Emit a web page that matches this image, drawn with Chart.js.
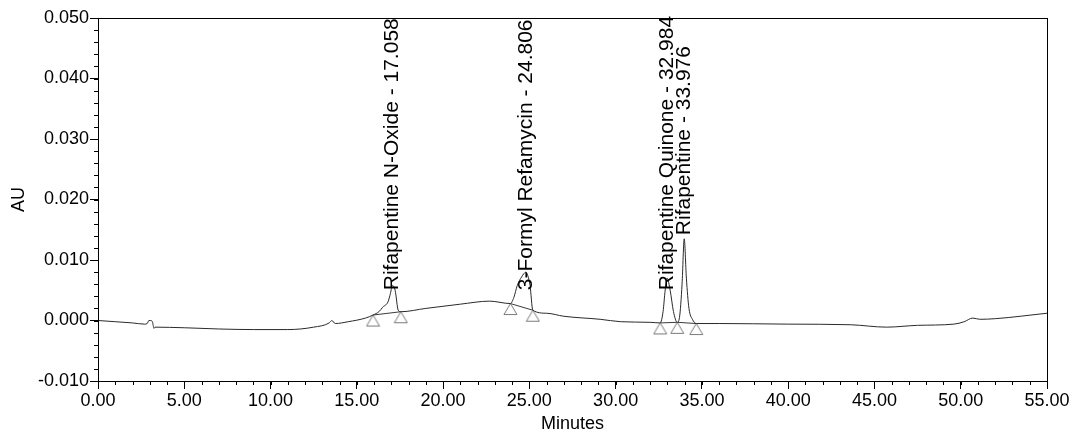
<!DOCTYPE html>
<html>
<head>
<meta charset="utf-8">
<script src="https://cdn.jsdelivr.net/npm/chart.js@4"></script>
<style>
  html, body { margin: 0; padding: 0; background: #fff; }
  #wrap { width: 1072px; height: 434px; }
</style>
</head>
<body>
<div id="wrap"><canvas id="chromChart" width="1072" height="434"></canvas></div>
<script>
// Chromatogram trace (minutes, AU)
const times = [
  0.00, 1.00, 2.00, 2.70, 2.85, 2.95, 3.05, 3.15, 3.25, 3.30, 5.00, 7.00, 9.00, 11.00,
  12.50, 13.40, 13.55, 13.75, 14.50, 15.50, 15.94, 16.30, 16.50, 16.81, 16.95, 17.06,
  17.22, 17.40, 17.55, 19.00, 21.00, 22.70, 23.90, 24.10, 24.30, 24.55, 24.806, 24.95,
  25.04, 25.20, 26.00, 27.00, 29.10, 30.30, 32.00, 32.58, 32.75, 32.87, 32.984, 33.16,
  33.35, 33.57, 33.70, 33.85, 33.976, 34.10, 34.25, 34.45, 34.67, 36.00, 40.00, 43.60,
  45.70, 47.50, 49.60, 50.20, 50.70, 51.10, 52.00, 55.00
];
const absorbance = [
  0.0000, -0.0002, -0.0004, -0.0006, -0.0005, 0.0000, 0.0000, -0.0002, -0.0013, -0.0011,
  -0.0012, -0.0014, -0.0015, -0.0015, -0.0011, -0.0004, 0.0000, -0.0005, -0.0002, 0.0004,
  0.0009, 0.0015, 0.0022, 0.0031, 0.0045, 0.0058, 0.0050, 0.0017, 0.00145, 0.0020, 0.0027,
  0.0032, 0.0028, 0.0038, 0.0058, 0.0072, 0.0080, 0.0070, 0.0058, 0.0017, 0.0012, 0.0007,
  0.0002, -0.0002, -0.0003, -0.0004, 0.0015, 0.0050, 0.0070, 0.0050, 0.0015, -0.0003,
  0.0005, 0.0060, 0.0135, 0.0070, 0.0020, 0.0002, -0.0005, -0.0005, -0.0006, -0.0007,
  -0.0011, -0.0008, -0.0006, -0.0002, 0.0004, 0.0002, 0.0003, 0.0012
];

// Integration marks (null = break between peaks)
const markTimes  = [15.94, 17.55, 20.0, 23.90, 25.20, 29.0, 32.58, 33.57, 34.67];
const markValues = [0.0009, 0.00145, null, 0.0028, 0.0017, null, -0.0004, -0.0003, -0.0005];

// Peak labels
const peakNames = ['Rifapentine N-Oxide', '3-Formyl Refamycin', 'Rifapentine Quinone', 'Rifapentine'];
const peakTimes = [17.058, 24.806, 32.984, 33.976];
const labelBase = [0.0050, 0.0050, 0.0050, 0.0141];

// Axes
const xMin = 0, xMax = 55, xMajor = 5, xMinor = 1;
const yMin = -0.010, yMax = 0.050, yMajor = 0.010, yMinor = 0.002;

const FONT = "'Liberation Sans', Arial, sans-serif";
Chart.defaults.font.family = FONT;
Chart.defaults.color = '#000';

// triangle marker, apex at centre of image
function triangleImage() {
  const c = document.createElement('canvas');
  c.width = 15; c.height = 25;
  const g = c.getContext('2d');
  g.strokeStyle = '#7a7a7a';
  g.lineWidth = 1;
  g.beginPath();
  g.moveTo(7.5, 12.5);
  g.lineTo(14, 23.5);
  g.lineTo(1, 23.5);
  g.closePath();
  g.stroke();
  return c;
}

const framePlugin = {
  id: 'frame',
  afterDraw(chart) {
    const { ctx, chartArea: a, scales } = chart;
    const x = scales.x, y = scales.y;
    ctx.save();
    ctx.strokeStyle = '#000';
    ctx.lineWidth = 1;
    ctx.strokeRect(Math.round(a.left) + 0.5, Math.round(a.top) + 0.5,
      Math.round(a.right - a.left), Math.round(a.bottom - a.top));
    // minor ticks
    ctx.beginPath();
    for (let v = xMin; v <= xMax + 1e-9; v += xMinor) {
      const px = Math.round(x.getPixelForValue(v)) + 0.5;
      ctx.moveTo(px, a.bottom);
      ctx.lineTo(px, a.bottom + 4);
    }
    for (let i = 0; i <= Math.round((yMax - yMin) / yMinor); i++) {
      const py = Math.round(y.getPixelForValue(yMin + i * yMinor)) + 0.5;
      ctx.moveTo(a.left - 4, py);
      ctx.lineTo(a.left, py);
    }
    ctx.stroke();
    ctx.restore();
  }
};

const peakLabelPlugin = {
  id: 'peakLabels',
  afterDatasetsDraw(chart) {
    const { ctx, scales } = chart;
    ctx.save();
    ctx.fillStyle = '#000';
    ctx.font = '21px ' + FONT;
    ctx.textAlign = 'left';
    ctx.textBaseline = 'middle';
    peakNames.forEach((name, i) => {
      const px = scales.x.getPixelForValue(peakTimes[i]);
      const py = scales.y.getPixelForValue(labelBase[i]);
      ctx.save();
      ctx.translate(px, py);
      ctx.rotate(-Math.PI / 2);
      ctx.fillText(name + ' - ' + peakTimes[i].toFixed(3), 0, 0);
      ctx.restore();
    });
    ctx.restore();
  }
};

const ctx = document.getElementById('chromChart').getContext('2d');
new Chart(ctx, {
  type: 'line',
  data: {
    datasets: [
      {
        data: times.map((t, i) => ({ x: t, y: absorbance[i] })),
        borderColor: '#2a2a2a',
        borderWidth: 1,
        pointRadius: 0,
        fill: false,
        cubicInterpolationMode: 'monotone'
      },
      {
        data: markTimes.map((t, i) => ({ x: t, y: markValues[i] })),
        borderColor: '#3a3a3a',
        borderWidth: 1,
        pointStyle: triangleImage(),
        pointRadius: 6,
        spanGaps: false,
        tension: 0,
        fill: false
      }
    ]
  },
  options: {
    responsive: false,
    animation: false,
    layout: { padding: { top: 18, right: 25, left: 0, bottom: 0 } },
    plugins: { legend: { display: false }, tooltip: { enabled: false } },
    scales: {
      x: {
        type: 'linear',
        min: xMin, max: xMax,
        afterFit: s => { s.height = 53; },
        ticks: {
          stepSize: xMajor,
          padding: 1,
          maxRotation: 0,
          autoSkip: false,
          font: { size: 18 },
          callback: v => Number(v).toFixed(2)
        },
        grid: { drawOnChartArea: false, color: '#000', tickLength: 8 },
        border: { color: '#000' },
        title: { display: true, text: 'Minutes', font: { size: 18 }, padding: { top: 0, bottom: -1 } }
      },
      y: {
        type: 'linear',
        min: yMin, max: yMax,
        afterFit: s => { s.width = 98; },
        ticks: {
          stepSize: yMajor,
          padding: 1,
          autoSkip: false,
          font: { size: 18 },
          callback: v => Number(v).toFixed(3)
        },
        grid: { drawOnChartArea: false, color: '#000', tickLength: 8 },
        border: { color: '#000' },
        title: { display: true, text: 'AU', font: { size: 18 }, padding: { top: 8, bottom: 0 } }
      }
    }
  },
  plugins: [framePlugin, peakLabelPlugin]
});
</script>
</body>
</html>
